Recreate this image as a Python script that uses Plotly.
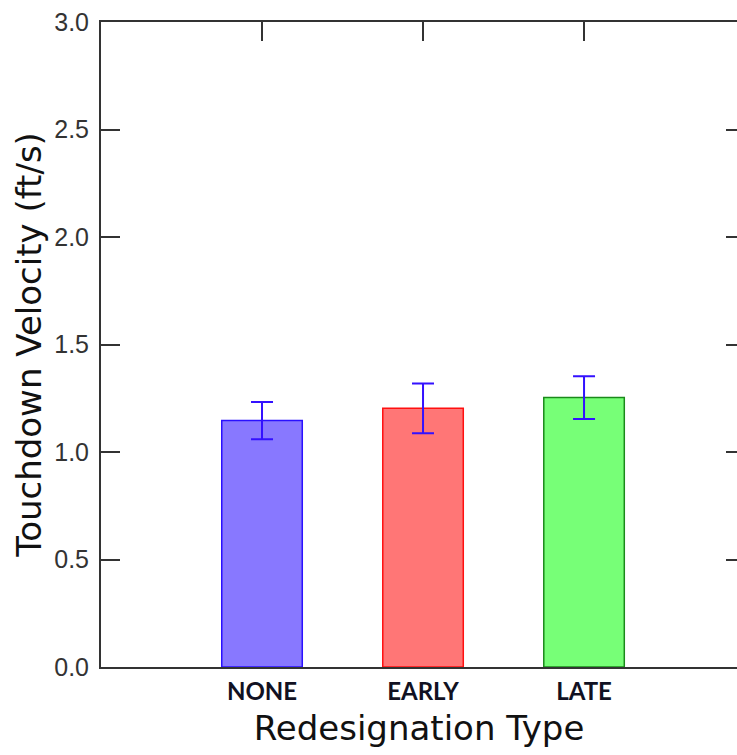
import plotly.graph_objects as go

categories = ["NONE", "EARLY", "LATE"]
values = [1.146, 1.203, 1.253]
errors = [0.087, 0.116, 0.099]
fill_colors = ["#8878ff", "#ff7676", "#77ff77"]
line_colors = ["#2a10ff", "#ff1010", "#1a8a1a"]
y_ticks = [0.0, 0.5, 1.0, 1.5, 2.0, 2.5, 3.0]
y_tick_text = ["0.0", "0.5", "1.0", "1.5", "2.0", "2.5", "3.0"]

xpos = list(range(len(categories)))

fig = go.Figure()
fig.add_trace(go.Bar(
    x=xpos, y=values, width=0.5,
    marker=dict(color=fill_colors, line=dict(color=line_colors, width=1.5)),
    error_y=dict(type="data", array=errors, visible=True, color="#3311ff", thickness=2, width=11),
    showlegend=False, hoverinfo="skip",
))
# invisible trace to anchor mirror axes
fig.add_trace(go.Scatter(x=[0], y=[0], xaxis="x2", yaxis="y2", mode="markers",
                         marker=dict(opacity=0), showlegend=False, hoverinfo="skip"))

fig.update_layout(
    width=737, height=755,
    margin=dict(l=101, r=0, t=22, b=88),
    paper_bgcolor="white", plot_bgcolor="white",
    xaxis=dict(range=[-1, 2.95], tickvals=xpos, ticktext=["<b>%s</b>" % c for c in categories],
               showline=True, linecolor="#333", linewidth=2, ticks="",
               showgrid=False, zeroline=False, ticklabelstandoff=2,
               tickfont=dict(family="Lato", size=24, color="#111122"),
               title=dict(text="Redesignation Type", font=dict(family="DejaVu Sans", size=34, color="#111"),
                          standoff=12)),
    xaxis2=dict(range=[-1, 2.95], overlaying="x", side="top", tickvals=xpos,
                showticklabels=False, showline=True, linecolor="#333", linewidth=2,
                ticks="inside", ticklen=19, tickwidth=2, tickcolor="#333",
                showgrid=False, zeroline=False),
    yaxis=dict(range=[0, 3], tickvals=y_ticks, ticktext=y_tick_text,
               showline=True, linecolor="#333", linewidth=2,
               ticks="inside", ticklen=19, tickwidth=2, tickcolor="#333",
               showgrid=False, zeroline=False, ticklabelstandoff=5,
               tickfont=dict(family="Liberation Sans", size=25, color="#333"),
               title=dict(text="Touchdown Velocity (ft/s)", font=dict(family="DejaVu Sans", size=34, color="#111"),
                          standoff=2)),
    yaxis2=dict(range=[0, 3], overlaying="y", side="right", tickvals=y_ticks,
                showticklabels=False, showline=False,
                ticks="inside", ticklen=11, tickwidth=2, tickcolor="#333",
                showgrid=False, zeroline=False),
)

fig.write_html("out.html")
